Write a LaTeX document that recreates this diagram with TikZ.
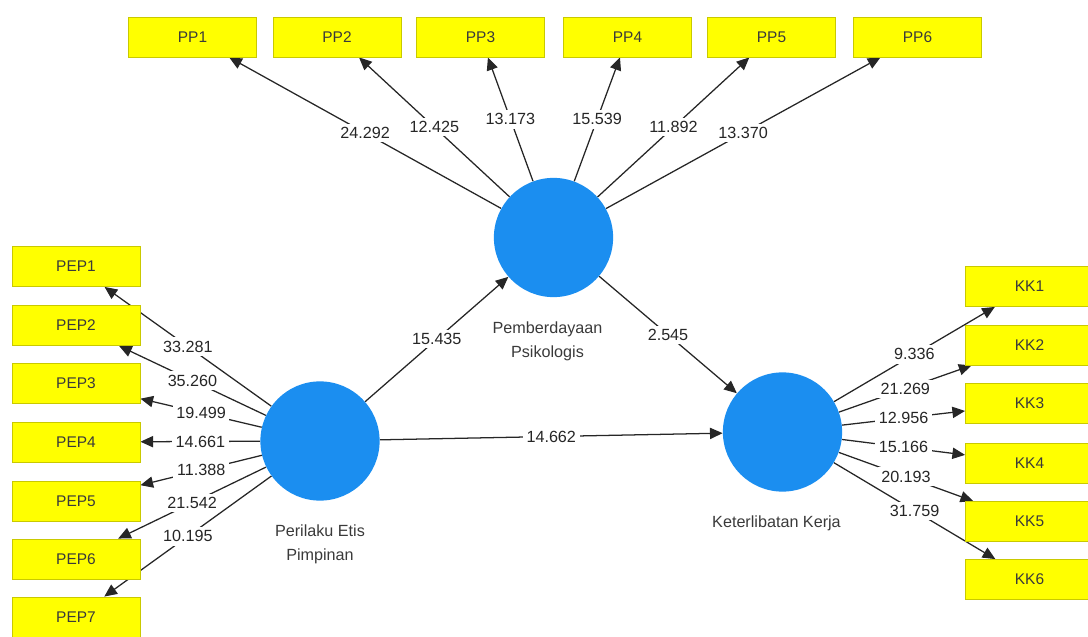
\documentclass[tikz,border=0pt]{standalone}
\usepackage{fontspec}
\setmainfont{Liberation Sans}
\usetikzlibrary{arrows.meta}
\usetikzlibrary{positioning}
\usetikzlibrary{backgrounds}
\definecolor{indfill}{HTML}{FFFF00}
\definecolor{inddraw}{HTML}{C9C900}
\definecolor{lvblue}{HTML}{1B8EF0}
\definecolor{linegray}{HTML}{262626}
\definecolor{txtgray}{HTML}{3A3A3A}
\tikzset{
  ind/.style={draw=inddraw, fill=indfill, line width=0.6pt, minimum width=3.2cm, minimum height=1.0cm, inner sep=0pt, text=txtgray, font=\fontsize{11}{13}\selectfont},
  lv/.style={circle, fill=lvblue, minimum size=2.98cm, inner sep=0pt},
  lvname/.style={align=center, inner sep=0pt, text=txtgray, font=\fontsize{11.5}{17}\selectfont},
  load/.style={draw=linegray, line width=0.9pt, -{Triangle[length=9pt,width=8pt]}},
  val/.style={fill=white, inner sep=2.5pt, text=linegray, font=\fontsize{11.5}{13}\selectfont}
}

\begin{document}
\begin{tikzpicture}[x=0.025cm, y=-0.025cm]
\useasboundingbox (0,0) rectangle (1088,637);
% Latent variables
\node[lv] (lvpp) at (553.5,237.5) {};
\node[lv] (lvpep) at (320,441) {};
\node[lv] (lvkk) at (782.5,432) {};
\node[lvname, below=0.6cm of lvpp, xshift=-0.15cm] (namepp) {Pemberdayaan\\Psikologis};
\node[lvname, below=0.6cm of lvpep] (namepep) {Perilaku Etis\\Pimpinan};
\node[lvname, below=0.6cm of lvkk, xshift=-0.15cm] (namekk) {Keterlibatan Kerja};
% Indicator boxes
\foreach \n/\x in {1/192.5,2/337,3/480.5,4/627.5,5/771.5,6/917.5}{\node[ind] (pp\n) at (\x,37) {PP\n};}
\foreach \n/\y in {1/266.5,2/325.5,3/383.5,4/442,5/501,6/559,7/617}{\node[ind] (pep\n) at (76,\y) {PEP\n};}
\foreach \n/\y in {1/286.5,2/345,3/403.5,4/463,5/521.5,6/579.5}{\node[ind] (kk\n) at (1029.5,\y) {KK\n};}
% Outer loadings and paths, under the boxes
\begin{scope}[on background layer]
\foreach \n/\v in {1/24.292,2/12.425,3/13.173,4/15.539,5/11.892,6/13.370}{\draw[load] (lvpp) -- node[val]{\v} (pp\n);}
\foreach \n/\v in {1/33.281,2/35.260,3/19.499,4/14.661,5/11.388,6/21.542,7/10.195}{\draw[load] (lvpep) -- node[val]{\v} (pep\n);}
\foreach \n/\v in {1/9.336,2/21.269,3/12.956,4/15.166,5/20.193,6/31.759}{\draw[load] (lvkk) -- node[val]{\v} (kk\n);}
\draw[load] (lvpep) -- node[val]{15.435} (lvpp);
\draw[load] (lvpp) -- node[val]{2.545} (lvkk);
\draw[load] (lvpep) -- node[val]{14.662} (lvkk);
\end{scope}
\end{tikzpicture}
\end{document}
